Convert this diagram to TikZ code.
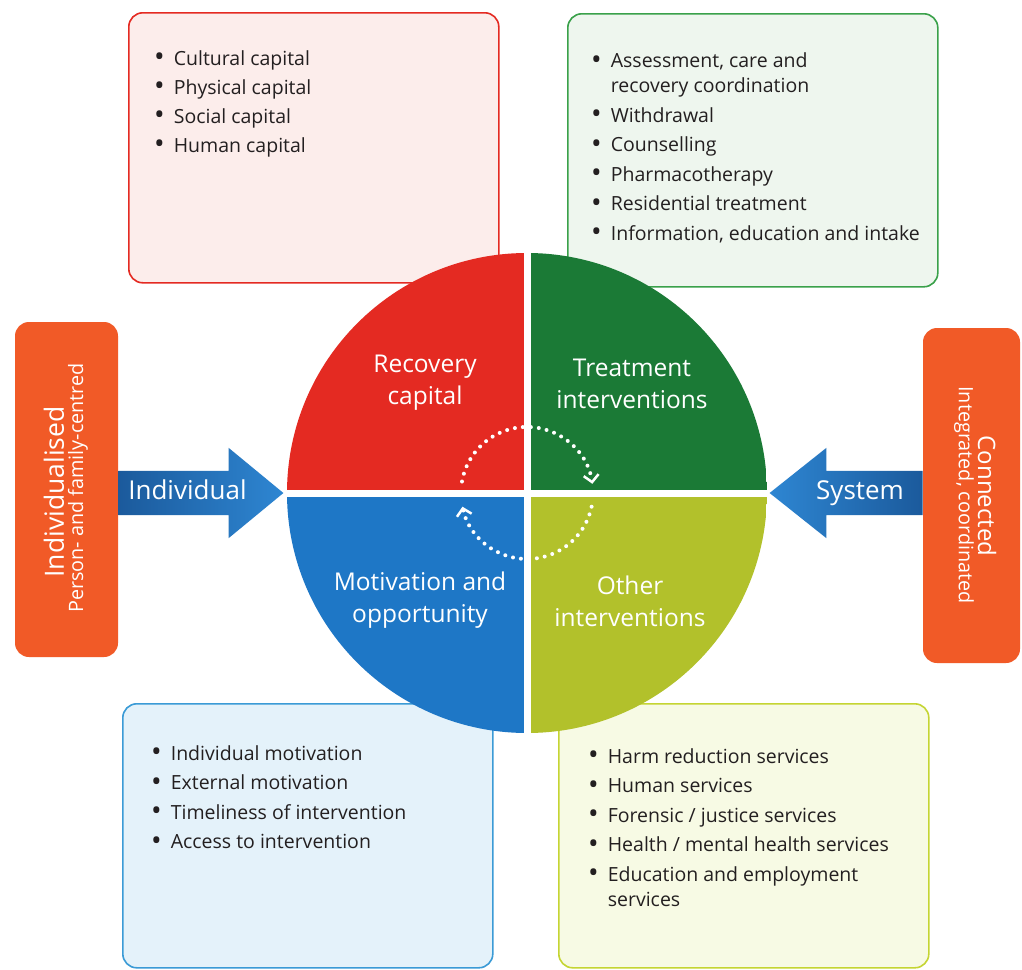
\documentclass[tikz,border=0pt]{standalone}
\usepackage{fontspec}
\setmainfont{Open Sans}
\usetikzlibrary{positioning,shapes.arrows,arrows.meta}

\definecolor{capRed}{HTML}{E42A22}
\definecolor{capTint}{HTML}{FCEDEB}
\definecolor{treatGreen}{HTML}{1B7A36}
\definecolor{treatTint}{HTML}{EEF6EE}
\definecolor{treatLine}{HTML}{3AA14A}
\definecolor{motBlue}{HTML}{1E77C6}
\definecolor{motTint}{HTML}{E4F2FA}
\definecolor{motLine}{HTML}{3B9BD6}
\definecolor{otherLime}{HTML}{B2C12B}
\definecolor{otherTint}{HTML}{F7FAE4}
\definecolor{otherLine}{HTML}{C5D533}
\definecolor{sideOrange}{HTML}{F15A27}
\definecolor{arrowDark}{HTML}{1B5A9C}
\definecolor{arrowLight}{HTML}{2E86D2}
\definecolor{listInk}{HTML}{231F20}

\newcommand{\bulItem}{\raisebox{-0.1em}{\scalebox{1.45}{\textbullet}}\hspace{9pt}}
\newcommand{\bulCont}{\phantom{\scalebox{1.45}{\textbullet}}\hspace{9pt}}

\begin{document}
\begin{tikzpicture}[x=1pt, y=-1pt]
\tikzstyle{listBox}=[rounded corners=14pt, line width=1.6pt, minimum width=370pt, anchor=north west, inner sep=0pt]
\tikzstyle{listText}=[align=left, inner sep=0pt, text=listInk, font=\fontsize{19.5}{25}\selectfont]
\tikzstyle{quadText}=[align=center, text=white, font=\fontsize{24.5}{32}\selectfont]
\tikzstyle{sideBox}=[rounded corners=14pt, fill=sideOrange, inner sep=0pt]
\tikzstyle{sideTitle}=[text=white, inner sep=0pt]
\tikzstyle{sideSub}=[text=white, inner sep=0pt, font=\fontsize{19.8}{22}\selectfont]
\tikzstyle{blockArrow}=[single arrow, single arrow head extend=23pt, text=white, font=\fontsize{26}{28}\selectfont, text height=17pt, text depth=5pt, inner ysep=11pt, inner xsep=0pt]
\tikzstyle{cycleArrow}=[white, line width=4pt, line cap=round, dash pattern=on 0pt off 8pt, -{Straight Barb[length=7pt, width=15pt, line width=2.5pt]}]

\useasboundingbox[fill=white] (0,0) rectangle (1022,969);

% list boxes
\node[listBox, draw=capRed, fill=capTint, minimum height=270pt] (capBox) at (128,12) {};
\node[listBox, draw=treatLine, fill=treatTint, minimum height=273pt] (treatBox) at (567,13) {};
\node[listBox, draw=motLine, fill=motTint, minimum height=264pt] (motBox) at (122,703) {};
\node[listBox, draw=otherLine, fill=otherTint, minimum height=264pt] (otherBox) at (558,703) {};

\node[listText, below right=38pt and 26pt of capBox.north west] (capList)
  {\bulItem Cultural capital\\[4pt]
   \bulItem Physical capital\\[4pt]
   \bulItem Social capital\\[4pt]
   \bulItem Human capital};
\node[listText, below right=39.5pt and 24pt of treatBox.north west] (treatList)
  {\bulItem Assessment, care and\\
   \bulCont recovery coordination\\[4.5pt]
   \bulItem Withdrawal\\[4.5pt]
   \bulItem Counselling\\[4.5pt]
   \bulItem Pharmacotherapy\\[4.5pt]
   \bulItem Residential treatment\\[4.5pt]
   \bulItem Information, education and intake};
\node[listText, below right=42pt and 29pt of motBox.north west] (motList)
  {\bulItem Individual motivation\\[4.5pt]
   \bulItem External motivation\\[4.5pt]
   \bulItem Timeliness of intervention\\[4.5pt]
   \bulItem Access to intervention};
\node[listText, below right=45pt and 30pt of otherBox.north west] (otherList)
  {\bulItem Harm reduction services\\[4.5pt]
   \bulItem Human services\\[4.5pt]
   \bulItem Forensic / justice services\\[4.5pt]
   \bulItem Health / mental health services\\[4.5pt]
   \bulItem Education and employment\\
   \bulCont services};

% the wheel
\coordinate (hub) at (527,493);
\begin{scope}
\clip (hub) circle[radius=240];
\fill[capRed] ([shift={(-240,-240)}]hub) rectangle ([shift={(-3.5,-3.5)}]hub);
\fill[treatGreen] ([shift={(3.5,-240)}]hub) rectangle ([shift={(240,-3.5)}]hub);
\fill[motBlue] ([shift={(-240,3.5)}]hub) rectangle ([shift={(-3.5,240)}]hub);
\fill[otherLime] ([shift={(3.5,3.5)}]hub) rectangle ([shift={(240,240)}]hub);
\end{scope}

\node[quadText] (capLabel) at (425,383) {Recovery\\capital};
\node[quadText] (treatLabel) at (632,384) {Treatment\\interventions};
\node[quadText] (motLabel) at (420,600) {Motivation and\\opportunity};
\node[quadText] (otherLabel) at (630,601) {Other\\interventions};

\draw[cycleArrow] ([shift={(-65,-11.5)}]hub) arc[start angle=-170, end angle=-8, radius=66];
\draw[cycleArrow] ([shift={(64.6,13.7)}]hub) arc[start angle=12, end angle=168, radius=66];

% side boxes
\node[sideBox, minimum width=103pt, minimum height=335pt] (indBox) at (66.5,489.5) {};
\node[sideTitle, rotate=90, font=\fontsize{26.5}{30}\selectfont] (indTitle) at (54,492) {Individualised};
\node[sideSub, rotate=90] (indSub) at (78,488) {Person- and family-centred};
\node[sideBox, minimum width=97pt, minimum height=335pt] (sysBox) at (971.5,495.5) {};
\node[sideTitle, rotate=-90, font=\fontsize{24}{30}\selectfont] (sysTitle) at (987,496) {Connected};
\node[sideSub, rotate=-90] (sysSub) at (964,495) {Integrated, coordinated};

% arrows into the wheel
\node[blockArrow, left color=arrowDark, right color=arrowLight, single arrow tip angle=79, minimum height=165pt, anchor=tail] (indArrow) at (indBox.east |- hub) {Individual};
\node[blockArrow, left color=arrowLight, right color=arrowDark, shape border rotate=180, single arrow tip angle=77, minimum height=153pt, anchor=tail] (sysArrow) at (sysBox.west |- hub) {System};
\end{tikzpicture}
\end{document}
